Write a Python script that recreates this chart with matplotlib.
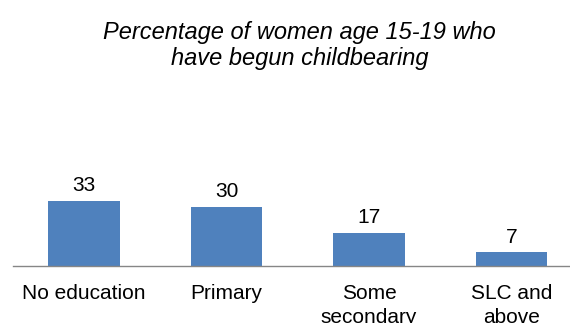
import matplotlib.pyplot as plt
import numpy as np

categories = ["No education", "Primary", "Some\nsecondary", "SLC and\nabove"]
values = [33, 30, 17, 7]

plt.rcParams['font.family'] = ['Liberation Sans', 'DejaVu Sans']

fig = plt.figure(figsize=(5.7, 3.23), dpi=100)
# axes placed in pixel units of the 570x323 canvas
ax = fig.add_axes([12.75 / 570, 57 / 323, 570 / 570, 78.8 / 323])

x = np.arange(len(categories))
bars = ax.bar(x, values, width=0.5, color="#4F81BD")
ax.set_xlim(-0.5, 3.5)
ax.set_ylim(0, 40)

for xi, v in zip(x, values):
    ax.annotate(str(v), (xi, v), xytext=(0, 4), textcoords="offset points",
                ha="center", va="bottom", fontsize=15)

for s in ["top", "left", "right"]:
    ax.spines[s].set_visible(False)
ax.spines["bottom"].set_color("#868686")
ax.spines["bottom"].set_linewidth(1.0)
ax.set_yticks([])
ax.set_xticks(x)
ax.set_xticklabels(categories, fontsize=15, linespacing=1.3)
ax.tick_params(axis="x", length=0, pad=13)

fig.text(0.526, 1 - 32 / 323, "Percentage of women age 15-19 who",
         ha="center", va="center", fontsize=17, style="italic")
fig.text(0.526, 1 - 58 / 323, "have begun childbearing",
         ha="center", va="center", fontsize=17, style="italic")

plt.savefig("out.png", dpi=100)
